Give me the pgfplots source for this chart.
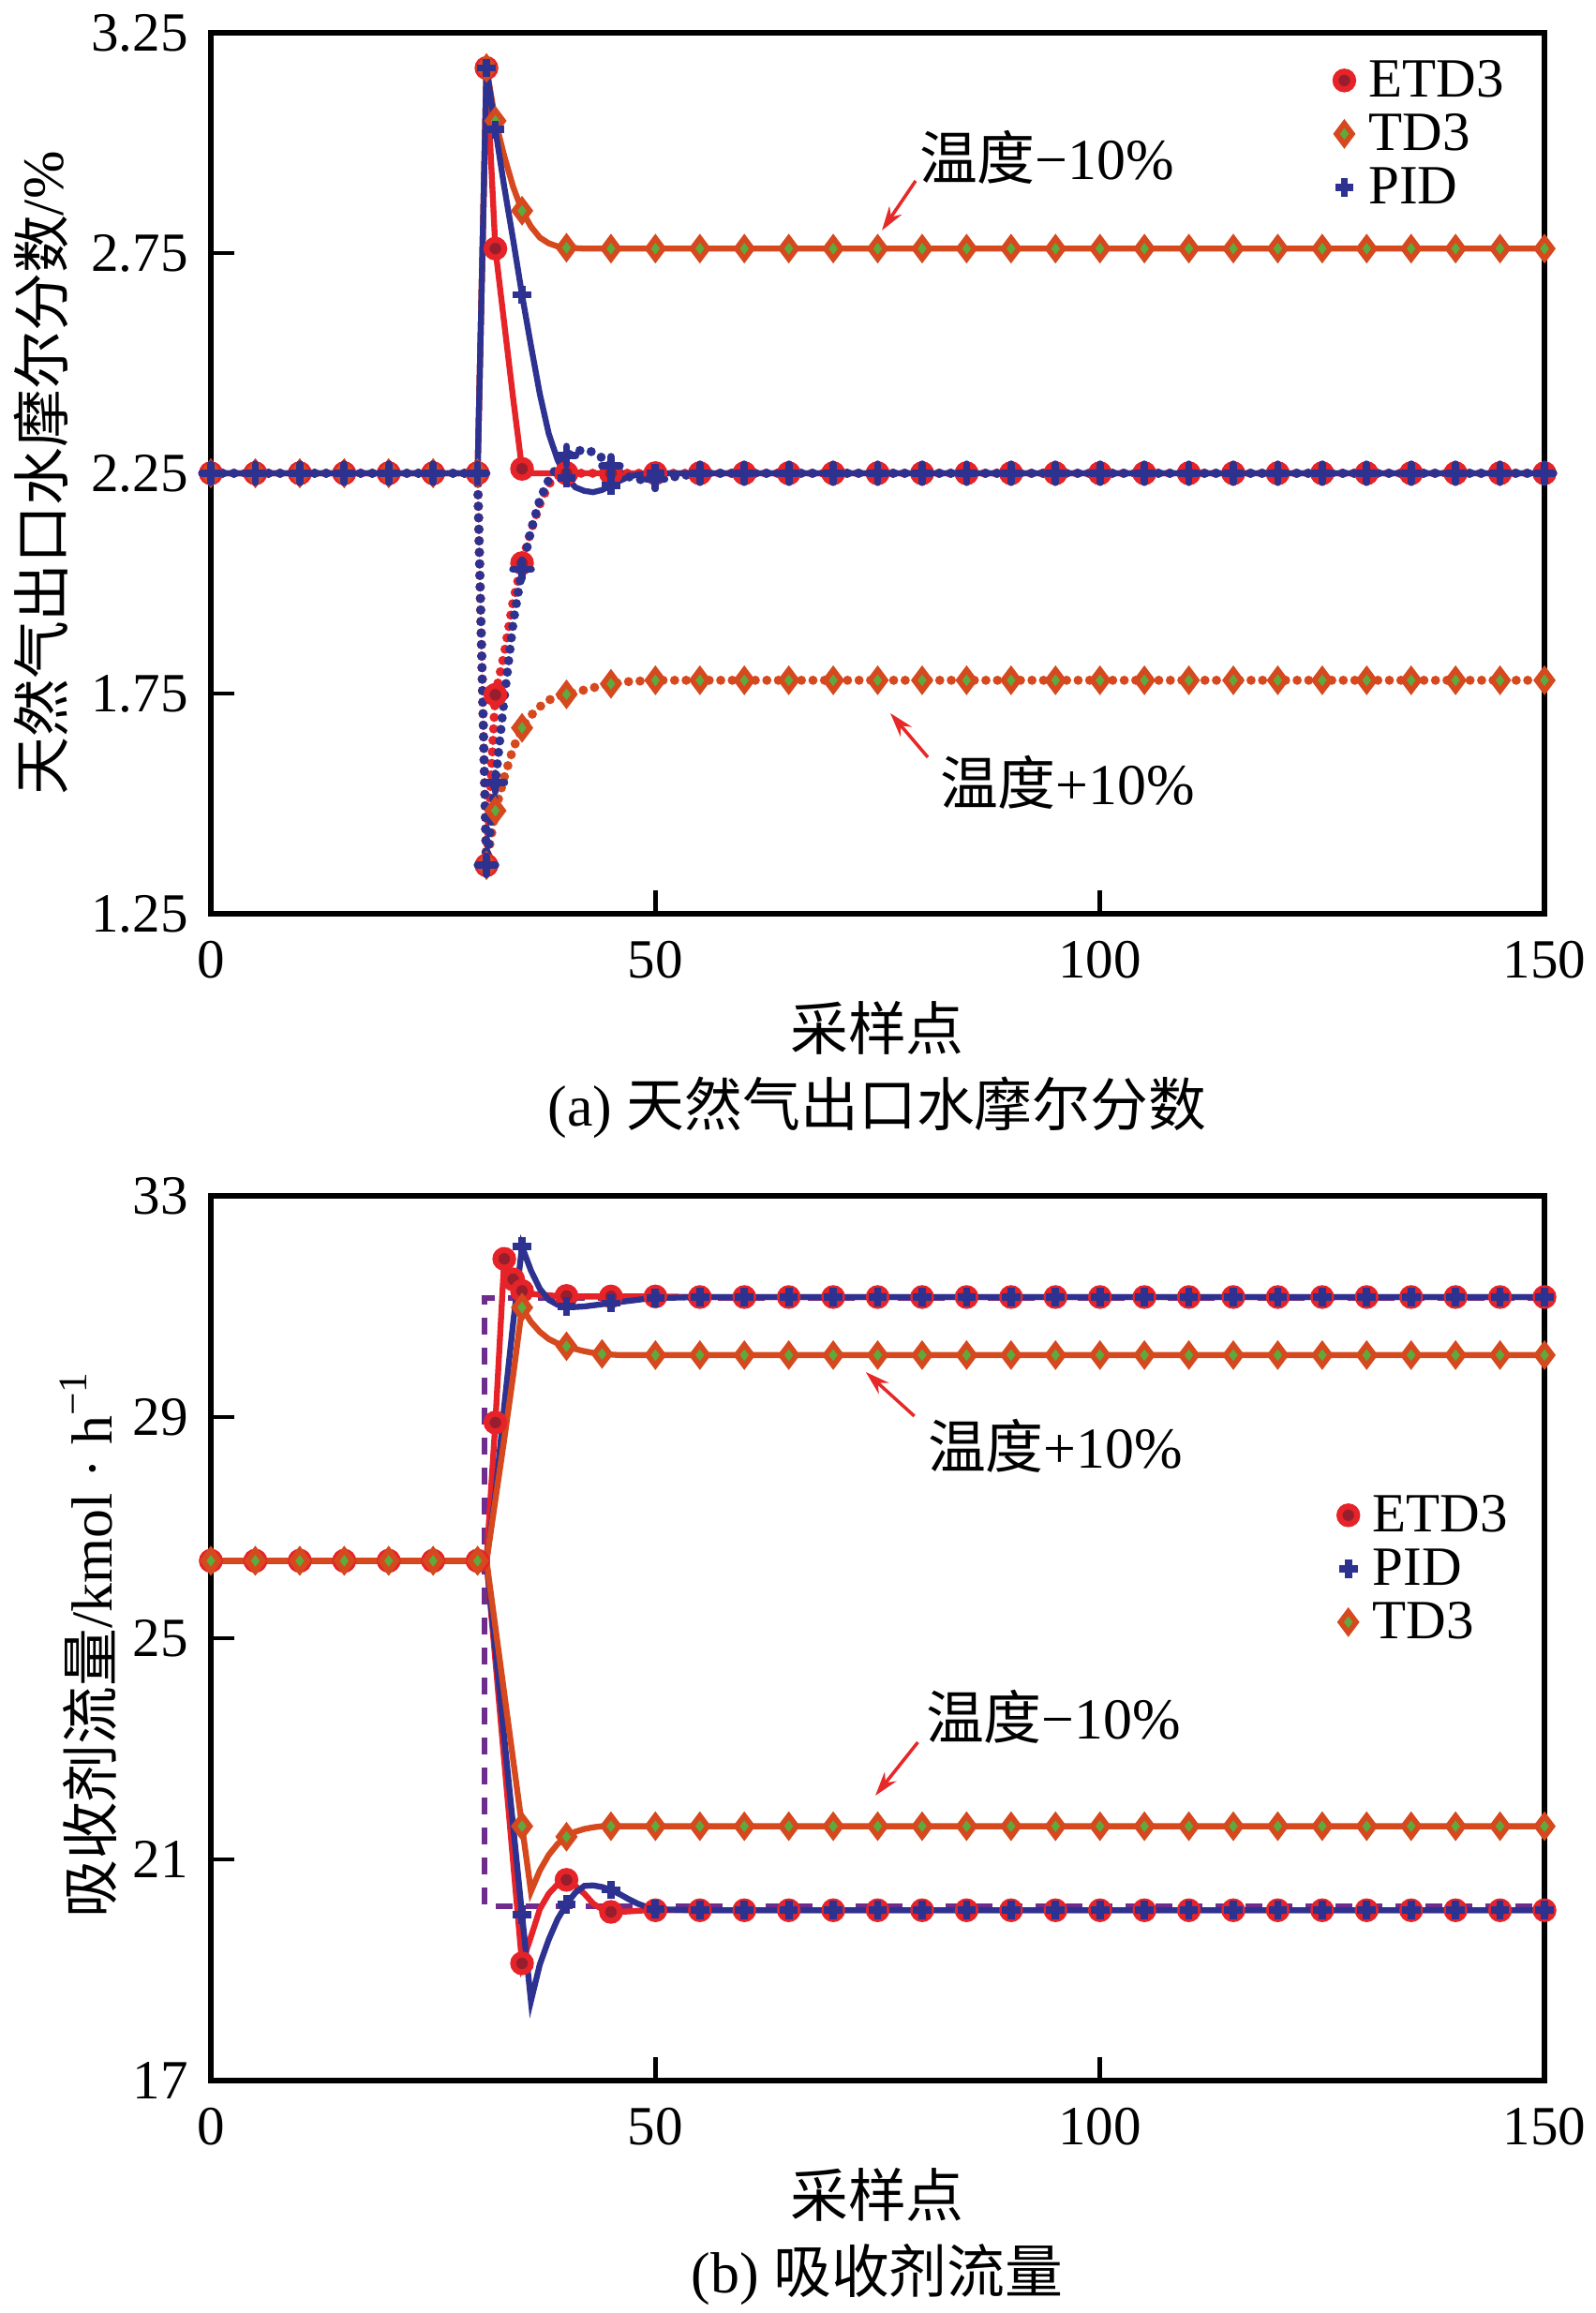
\documentclass[border=0pt]{standalone}
\usepackage{fontspec}
\setmainfont{Liberation Serif}
\newfontfamily\cjk{Noto Sans CJK SC}
\usepackage{pgfplots}
\usepackage{pgfplotstable}
\pgfplotsset{compat=1.18}
\usetikzlibrary{arrows.meta}

\definecolor{etdred}{RGB}{230,35,40}
\definecolor{etddark}{RGB}{150,30,45}
\definecolor{tdorange}{RGB}{214,72,30}
\definecolor{tdgreen}{RGB}{95,170,60}
\definecolor{pidblue}{RGB}{45,50,145}
\definecolor{dashpurple}{RGB}{110,45,140}
\definecolor{arrowred}{RGB}{230,40,40}

\newcommand\tf{\fontsize{8.4}{9}\selectfont}
\newcommand\cf{\fontsize{8.8}{10}\selectfont}

\pgfplotstableread{
x Es Ts Ps Ed Td Pd
0 2.25 2.25 2.25 2.25 2.25 2.25
5 2.25 2.25 2.25 2.25 2.25 2.25
10 2.25 2.25 2.25 2.25 2.25 2.25
15 2.25 2.25 2.25 2.25 2.25 2.25
20 2.25 2.25 2.25 2.25 2.25 2.25
25 2.25 2.25 2.25 2.25 2.25 2.25
30 2.25 2.25 2.25 2.25 2.25 2.25
31 3.17 3.17 3.17 1.36 1.36 1.36
32 2.76 3.05 3.03 1.747 1.484 1.548
33 2.59 2.97 2.90 1.84 1.56 1.74
34 2.42 2.90 2.78 1.96 1.625 1.91
35 2.26 2.846 2.655 2.046 1.672 2.032
36 2.25 2.81 2.54 2.12 1.70 2.12
37 2.25 2.785 2.43 2.18 1.72 2.19
38 2.25 2.772 2.34 2.225 1.735 2.235
39 2.25 2.765 2.28 2.245 1.743 2.265
40 2.25 2.762 2.24 2.25 1.748 2.29
41 2.25 2.761 2.218 2.25 1.753 2.30
42 2.25 2.76 2.21 2.25 1.758 2.303
43 2.25 2.76 2.207 2.25 1.763 2.298
44 2.25 2.76 2.212 2.25 1.768 2.285
45 2.25 2.76 2.222 2.25 1.772 2.267
46 2.25 2.76 2.233 2.25 1.775 2.252
47 2.25 2.76 2.242 2.25 1.777 2.242
48 2.25 2.76 2.247 2.25 1.778 2.236
49 2.25 2.76 2.249 2.25 1.779 2.235
50 2.25 2.76 2.25 2.25 1.78 2.236
55 2.25 2.76 2.25 2.25 1.78 2.25
60 2.25 2.76 2.25 2.25 1.78 2.25
65 2.25 2.76 2.25 2.25 1.78 2.25
70 2.25 2.76 2.25 2.25 1.78 2.25
75 2.25 2.76 2.25 2.25 1.78 2.25
80 2.25 2.76 2.25 2.25 1.78 2.25
85 2.25 2.76 2.25 2.25 1.78 2.25
90 2.25 2.76 2.25 2.25 1.78 2.25
95 2.25 2.76 2.25 2.25 1.78 2.25
100 2.25 2.76 2.25 2.25 1.78 2.25
105 2.25 2.76 2.25 2.25 1.78 2.25
110 2.25 2.76 2.25 2.25 1.78 2.25
115 2.25 2.76 2.25 2.25 1.78 2.25
120 2.25 2.76 2.25 2.25 1.78 2.25
125 2.25 2.76 2.25 2.25 1.78 2.25
130 2.25 2.76 2.25 2.25 1.78 2.25
135 2.25 2.76 2.25 2.25 1.78 2.25
140 2.25 2.76 2.25 2.25 1.78 2.25
145 2.25 2.76 2.25 2.25 1.78 2.25
150 2.25 2.76 2.25 2.25 1.78 2.25
}\tablea

\pgfplotstableread{
x Eu Pu Tu El Pl Tl
0 26.4 26.4 26.4 26.4 26.4 26.4
5 26.4 26.4 26.4 26.4 26.4 26.4
10 26.4 26.4 26.4 26.4 26.4 26.4
15 26.4 26.4 26.4 26.4 26.4 26.4
20 26.4 26.4 26.4 26.4 26.4 26.4
25 26.4 26.4 26.4 26.4 26.4 26.4
30 26.4 26.4 26.4 26.4 26.4 26.4
31 26.4 26.4 26.4 26.4 26.4 26.4
32 28.9 27.6 27.5 24.6 24.8 25.2
33 31.86 29.2 28.6 22.78 23.2 24.0
34 31.49 30.7 29.75 20.95 21.6 22.8
35 31.28 32.08 30.98 19.12 20.0 21.6
36 31.23 31.65 30.72 19.6 18.44 20.42
37 31.21 31.32 30.54 20.1 19.1 20.8
38 31.2 31.12 30.41 20.38 19.55 21.08
39 31.19 31.03 30.33 20.55 19.92 21.28
40 31.19 31.0 30.28 20.63 20.19 21.41
41 31.18 30.99 30.23 20.52 20.4 21.5
42 31.18 31.0 30.19 20.38 20.52 21.55
43 31.18 31.02 30.16 20.2 20.53 21.58
44 31.18 31.04 30.14 20.1 20.5 21.6
45 31.18 31.06 30.13 20.05 20.45 21.6
46 31.18 31.08 30.12 20.05 20.37 21.6
47 31.18 31.1 30.12 20.06 20.28 21.6
48 31.18 31.12 30.12 20.07 20.2 21.6
49 31.18 31.14 30.12 20.08 20.14 21.6
50 31.18 31.15 30.12 20.08 20.1 21.6
55 31.17 31.17 30.12 20.08 20.08 21.6
60 31.17 31.17 30.12 20.08 20.08 21.6
65 31.17 31.17 30.12 20.08 20.08 21.6
70 31.17 31.17 30.12 20.08 20.08 21.6
75 31.17 31.17 30.12 20.08 20.08 21.6
80 31.17 31.17 30.12 20.08 20.08 21.6
85 31.17 31.17 30.12 20.08 20.08 21.6
90 31.17 31.17 30.12 20.08 20.08 21.6
95 31.17 31.17 30.12 20.08 20.08 21.6
100 31.17 31.17 30.12 20.08 20.08 21.6
105 31.17 31.17 30.12 20.08 20.08 21.6
110 31.17 31.17 30.12 20.08 20.08 21.6
115 31.17 31.17 30.12 20.08 20.08 21.6
120 31.17 31.17 30.12 20.08 20.08 21.6
125 31.17 31.17 30.12 20.08 20.08 21.6
130 31.17 31.17 30.12 20.08 20.08 21.6
135 31.17 31.17 30.12 20.08 20.08 21.6
140 31.17 31.17 30.12 20.08 20.08 21.6
145 31.17 31.17 30.12 20.08 20.08 21.6
150 31.17 31.17 30.12 20.08 20.08 21.6
}\tableb

\pgfplotsset{
  etd/.style={color=etdred, line width=0.9pt, mark=*, mark size=1.35pt,
    mark options={solid, fill=etddark, draw=etdred, line width=0.9pt}},
  td/.style={color=tdorange, line width=0.9pt, mark=diamond*, mark size=1.6pt,
    mark options={solid, fill=tdgreen, draw=tdorange, line width=0.8pt}},
  pid/.style={color=pidblue, line width=0.9pt, mark=+, mark size=1.4pt,
    mark options={solid, line width=1.1pt}},
  dots/.style={line width=1.4pt, dash pattern=on 0pt off 1.75pt, line cap=round},
  mA/.style={mark indices={1,2,3,4,5,6,7,8,9,12,17,22,27,28,29,30,31,32,33,34,35,36,37,38,39,40,41,42,43,44,45,46,47}},
  mB/.style={mark indices={1,2,3,4,5,6,7,12,17,22,27,28,29,30,31,32,33,34,35,36,37,38,39,40,41,42,43,44,45,46,47}},
  mBE/.style={mark indices={1,2,3,4,5,6,7,9,10,11,12,17,22,27,28,29,30,31,32,33,34,35,36,37,38,39,40,41,42,43,44,45,46,47}},
  mBT/.style={mark indices={1,2,3,4,5,6,7,12,17,21,27,28,29,30,31,32,33,34,35,36,37,38,39,40,41,42,43,44,45,46,47}},
  myaxis/.style={
    scale only axis, width=71.15mm,
    xmin=0, xmax=150, xtick={0,50,100,150},
    tick pos=left, tick align=inside, major tick length=1.25mm,
    axis line style={line width=0.8pt},
    tick style={black, line width=0.7pt},
    ticklabel style={font=\tf},
    /pgf/number format/assume math mode=true,
    xticklabel style={inner sep=0pt, yshift=-1.4mm},
    yticklabel style={inner sep=0pt, xshift=-1.15mm},
    clip=false,
    legend image code/.code={\draw[mark repeat=2,mark phase=2,##1] plot coordinates {(0cm,0cm)(0.12cm,0cm)(0.24cm,0cm)};},
    legend cell align=left,
    legend style={draw=none, fill=none, inner sep=0pt, outer sep=0pt,
      row sep=1.05mm, column sep=0.8mm, font=\tf,
      nodes={inner sep=0pt, text height=1.8mm, text depth=0mm, anchor=west}},
  }
}

\begin{document}
\begin{tikzpicture}[x=1mm,y=1mm]
\useasboundingbox (0,0) rectangle (85.1,123.4);

% ---------------- (a) ----------------
\begin{axis}[myaxis, at={(11.25mm,74.65mm)}, anchor=south west, height=47.0mm,
  ymin=1.25, ymax=3.25, ytick={1.25,1.75,2.25,2.75,3.25},
  yticklabel style={/pgf/number format/fixed, /pgf/number format/fixed zerofill, /pgf/number format/precision=2},
  legend style={at={(0.843,0.965)}, anchor=north west}]
\addplot[etd, mA, forget plot] table[x=x,y=Es]{\tablea};
\addplot[etd, dots, mA, forget plot] table[x=x,y=Ed]{\tablea};
\addplot[td, mA, forget plot] table[x=x,y=Ts]{\tablea};
\addplot[td, dots, mA, forget plot] table[x=x,y=Td]{\tablea};
\addplot[pid, mA, forget plot] table[x=x,y=Ps]{\tablea};
\addplot[pid, dots, mA, forget plot] table[x=x,y=Pd]{\tablea};
\addlegendimage{etd, only marks}
\addlegendentry{ETD3}
\addlegendimage{td, only marks}
\addlegendentry{TD3}
\addlegendimage{pid, only marks}
\addlegendentry{PID}
\end{axis}

% ---------------- (b) ----------------
\begin{axis}[myaxis, at={(11.25mm,12.4mm)}, anchor=south west, height=47.2mm,
  ymin=17, ymax=33, ytick={17,21,25,29,33},
  legend style={at={(0.846,0.658)}, anchor=north west}]
\addplot[dashpurple, line width=0.8pt, dash pattern=on 0.9mm off 0.7mm, forget plot]
  coordinates {(150,31.15) (30.8,31.15) (30.8,20.15) (150,20.15)};
\addplot[etd, mBE, forget plot] table[x=x,y=Eu]{\tableb};
\addplot[etd, mB, forget plot] table[x=x,y=El]{\tableb};
\addplot[pid, mB, forget plot] table[x=x,y=Pu]{\tableb};
\addplot[pid, mB, forget plot] table[x=x,y=Pl]{\tableb};
\addplot[td, mBT, forget plot] table[x=x,y=Tu]{\tableb};
\addplot[td, mB, forget plot] table[x=x,y=Tl]{\tableb};
\addlegendimage{etd, only marks}
\addlegendentry{ETD3}
\addlegendimage{pid, only marks}
\addlegendentry{PID}
\addlegendimage{td, only marks}
\addlegendentry{TD3}
\end{axis}

% labels
\node[font=\cf] at (46.8,68.55) {\cjk 采样点};
\node[font=\cf] at (46.8,64.3) {(a) {\cjk 天然气出口水摩尔分数}};
\node[font=\cf, rotate=90] at (2.2,98.15) {{\cjk 天然气出口水摩尔分数}/\%};
\node[font=\cf] at (46.8,6.3) {\cjk 采样点};
\node[font=\cf] at (46.8,2.05) {(b) {\cjk 吸收剂流量}};
\node[font=\cf, rotate=90] at (4.7,35.7) {{\cjk 吸收剂流量}/kmol · h\textsuperscript{−1}};

% annotations
\node[font=\cf] at (55.85,115.0) {{\cjk 温度}−10\%};
\draw[arrowred, line width=0.5pt, -{Stealth[length=1.3mm,width=0.8mm]}] (48.85,113.75) -- (47.05,111.1);
\node[font=\cf] at (56.95,81.65) {{\cjk 温度}+10\%};
\draw[arrowred, line width=0.5pt, -{Stealth[length=1.3mm,width=0.8mm]}] (49.5,83.0) -- (47.5,85.35);
\node[font=\cf] at (56.3,46.25) {{\cjk 温度}+10\%};
\draw[arrowred, line width=0.5pt, -{Stealth[length=1.3mm,width=0.8mm]}] (48.78,47.85) -- (46.19,50.2);
\node[font=\cf] at (56.2,31.8) {{\cjk 温度}−10\%};
\draw[arrowred, line width=0.5pt, -{Stealth[length=1.3mm,width=0.8mm]}] (48.97,30.45) -- (46.7,27.6);
\end{tikzpicture}
\end{document}
